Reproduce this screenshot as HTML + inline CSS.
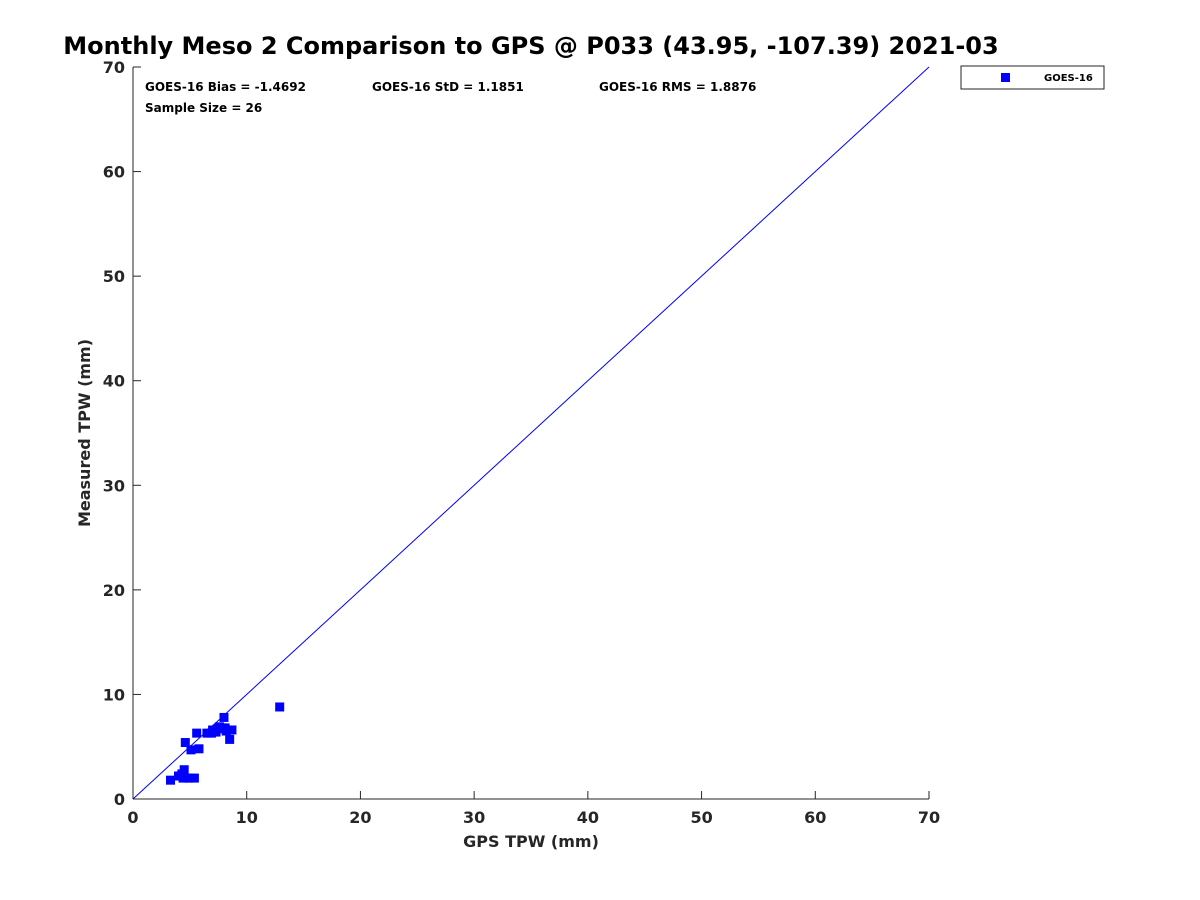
<!DOCTYPE html>
<html><head><meta charset="utf-8"><style>
body{margin:0;background:#fff;}
svg{display:block;font-family:"DejaVu Sans","Liberation Sans",sans-serif;}
</style></head><body>
<svg id="chart" width="1200" height="900">
<rect width="1200" height="900" fill="#fff"/>
<text x="531" y="54" text-anchor="middle" font-size="24" font-weight="bold" fill="#000">Monthly Meso 2 Comparison to GPS @ P033 (43.95, -107.39) 2021-03</text>
<g id="axes"></g>
<g id="marks"></g>
<text x="145" y="91" font-size="12" font-weight="bold">GOES-16 Bias = -1.4692</text>
<text x="372" y="91" font-size="12" font-weight="bold">GOES-16 StD = 1.1851</text>
<text x="599" y="91" font-size="12" font-weight="bold">GOES-16 RMS = 1.8876</text>
<text x="145" y="112" font-size="12" font-weight="bold">Sample Size = 26</text>
<text x="531" y="847" text-anchor="middle" font-size="16" font-weight="bold" fill="#262626">GPS TPW (mm)</text>
<text transform="translate(90,433) rotate(-90)" text-anchor="middle" font-size="16" font-weight="bold" fill="#262626">Measured TPW (mm)</text>
<g>
<rect x="961" y="66" width="143" height="23" fill="#fff" stroke="#262626" stroke-width="1"/>
<rect x="1001" y="73" width="9" height="9" fill="#0000ff"/>
<text x="1044" y="81" font-size="10" font-weight="bold">GOES-16</text>
</g>
</svg>
<script>
const xTicks=[0,10,20,30,40,50,60,70];
const yTicks=[0,10,20,30,40,50,60,70];
const gpsX=[12.9,8.0,4.6,5.6,5.1,5.8,8.5,6.5,7.0,7.4,7.8,8.2,8.7,6.9,7.3,3.3,4.0,4.5,4.2,4.8,5.4,4.4,8.1,7.6,5.0,4.3];
const measY=[8.8,7.8,5.4,6.3,4.7,4.8,5.7,6.3,6.6,6.7,6.8,6.5,6.6,6.3,6.4,1.8,2.2,2.8,2.2,2.0,2.0,2.0,6.8,6.9,2.0,2.4];
const SVGNS="http://www.w3.org/2000/svg";
const X0=133,X1=929,Y0=799,Y1=67,MAX=70;
const sx=v=>X0+(v/MAX)*(X1-X0);
const sy=v=>Y0-(v/MAX)*(Y0-Y1);
const axes=document.getElementById('axes'),marks=document.getElementById('marks');
function mk(t,a,p){const e=document.createElementNS(SVGNS,t);for(const k in a)e.setAttribute(k,a[k]);p.appendChild(e);return e;}
const xl=mk('line',{x1:X0,y1:Y0,x2:X1,y2:Y0,stroke:'#262626'},axes);


const yl=mk('line',{x1:X0,y1:Y0,x2:X0,y2:Y1,stroke:'#262626'},axes);


xTicks.forEach(v=>{
 mk('line',{x1:sx(v),y1:Y0,x2:sx(v),y2:Y0-8,stroke:'#262626'},axes);
 const t=mk('text',{x:sx(v),y:Y0+24,'text-anchor':'middle','font-size':16,'font-weight':'bold',fill:'#262626'},axes);
 t.textContent=v;
 
 
});
yTicks.forEach(v=>{
 mk('line',{x1:X0,y1:sy(v),x2:X0+8,y2:sy(v),stroke:'#262626'},axes);
 const t=mk('text',{x:X0-8,y:sy(v)+6,'text-anchor':'end','font-size':16,'font-weight':'bold',fill:'#262626'},axes);
 t.textContent=v;
 
 
});
const ref=mk('line',{x1:sx(0),y1:sy(0),x2:sx(MAX),y2:sy(MAX),stroke:'#0000ff','stroke-width':1},marks);


gpsX.forEach((v,i)=>{
 const r=mk('rect',{x:sx(v)-4.5,y:sy(measY[i])-4.5,width:9,height:9,fill:'#0000ff'},marks);
 
 
});
</script>
</body></html>
